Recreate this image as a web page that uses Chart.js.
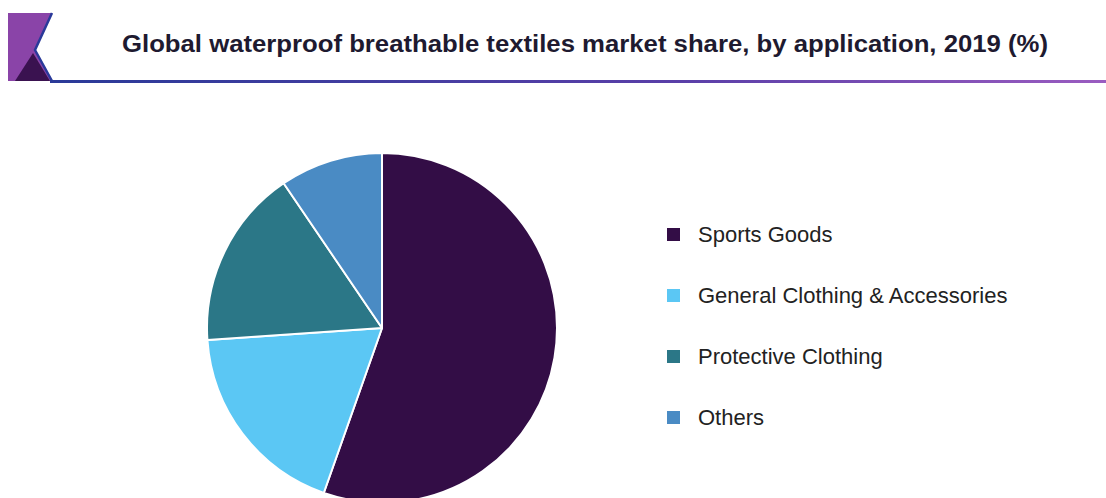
<!DOCTYPE html>
<html lang="en">
<head>
  <meta charset="UTF-8">
  <title>Waterproof breathable textiles</title>
  <script src="https://cdn.jsdelivr.net/npm/chart.js"></script>
  <style>
    html, body { margin: 0; padding: 0; background: #fff; }
    body { width: 1106px; height: 498px; overflow: hidden; position: relative; font-family: "Liberation Sans", Arial, sans-serif; }
    #logo { position: absolute; left: 0; top: 0; }
    #titulo { position: absolute; left: 122px; top: 31px; margin: 0; font-size: 23px; line-height: 27px; font-weight: bold; color: #1e1a30; white-space: nowrap; transform-origin: left top; }
    #linha { position: absolute; left: 50px; top: 80px; width: 1056px; height: 3px; background: linear-gradient(to right, #2a3a98, #5a3fa8 60%, #9a5cc0); }
    #pie { position: absolute; left: 206px; top: 152px; width: 352px; height: 352px; }
    #legenda { position: absolute; left: 667px; top: 220px; }
    .item { height: 61px; display: flex; align-items: flex-start; font-size: 22px; line-height: 30px; color: #222; }
    .item span.box { width: 13px; height: 13px; margin-top: 8px; margin-right: 18px; }
  </style>
</head>
<body>
  <!-- cabecalho -->
  <canvas id="logo" width="60" height="90"></canvas>
  <h1 id="titulo">Global waterproof breathable textiles market share, by application, 2019 (%)</h1>
  <div id="linha"></div>

  <div id="pie"><canvas id="grafico"></canvas></div>
  <div id="legenda"></div>

<script>
  const categorias = ['Sports Goods', 'General Clothing & Accessories', 'Protective Clothing', 'Others'];
  const valores = [55.4, 18.5, 16.6, 9.5];
  const cores = ['#330d46', '#5bc7f4', '#2b7787', '#4a8bc4'];

  // logo do canto
  const lg = document.getElementById('logo').getContext('2d');
  lg.fillStyle = '#8a44a8';
  lg.beginPath();
  lg.moveTo(8, 13); lg.lineTo(52, 13); lg.lineTo(35, 50); lg.lineTo(52, 81); lg.lineTo(8, 81);
  lg.closePath(); lg.fill();
  lg.fillStyle = '#3a1250';
  lg.beginPath();
  lg.moveTo(15, 81); lg.lineTo(33, 53); lg.lineTo(50, 81);
  lg.closePath(); lg.fill();
  lg.strokeStyle = '#2a3a9a';
  lg.lineWidth = 2.5;
  lg.beginPath();
  lg.moveTo(52, 13); lg.lineTo(35, 50); lg.lineTo(52, 81);
  lg.stroke();

  // ajusta largura do titulo
  const t = document.getElementById('titulo');
  t.style.transform = 'scaleX(' + (926 / t.getBoundingClientRect().width) + ')';

  // legenda
  const leg = document.getElementById('legenda');
  categorias.forEach((c, i) => {
    leg.innerHTML += '<div class="item"><span class="box" style="background:' + cores[i] + '"></span>' + c.replace('&', '&amp;') + '</div>';
  });

  const ctx = document.getElementById('grafico');
  const grafico = new Chart(ctx, {
    type: 'pie',
    data: {
      labels: categorias,
      datasets: [{
        data: valores,
        backgroundColor: cores,
        borderColor: '#ffffff',
        borderWidth: 2
      }]
    },
    options: {
      responsive: true,
      maintainAspectRatio: false,
      animation: false,
      plugins: {
        legend: { display: false },
        tooltip: { enabled: false }
      }
    }
  })
</script>
</body>
</html>
